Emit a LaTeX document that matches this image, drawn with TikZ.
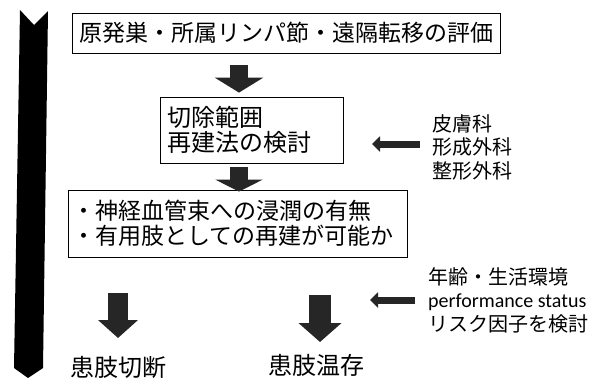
\documentclass[tikz,border=0pt]{standalone}
\usepackage{fontspec}
\setmainfont{Carlito}
\newfontfamily\jp{Noto Sans CJK JP}
\usetikzlibrary{arrows.meta}
\tikzset{
  box/.style={draw=black, line width=0.8pt, inner sep=0pt, fill=white},
  blk/.style n args={3}{line width=#1, draw=black!85, -{Triangle[width=#2,length=#3]}},
  sml/.style={line width=7pt, draw=black!85, -{Triangle[width=15pt,length=8pt]}},
  side/.style={anchor=west, inner sep=0pt, align=left, font=\jp\fontsize{20}{23.5}\selectfont},
  result/.style={anchor=west, inner sep=0pt, font=\jp\fontsize{24}{26}\selectfont},
}
\begin{document}
\begin{tikzpicture}[x=1pt,y=1pt]
\useasboundingbox (0,0) rectangle (613,-378);
% big timeline arrow
\fill[black] (20,-10) -- (34,-25) -- (48,-11) -- (43,-368) -- (28,-378) -- (14,-368) -- cycle;
% boxes
\node[box, minimum width=428pt, minimum height=40pt, font=\jp\fontsize{23}{25}\selectfont] (b1) at (286,-33) {原発巣・所属リンパ節・遠隔転移の評価};
\node[box, minimum width=183pt, minimum height=66pt, text width=169pt, align=left, inner xsep=7pt, font=\jp\fontsize{24}{25}\selectfont] (b2) at (251.5,-130) {切除範囲\\再建法の検討};
\node[box, minimum width=339pt, minimum height=67pt, text width=331pt, align=left, inner xsep=4pt, font=\jp\fontsize{23}{25}\selectfont] (b3) at (237.5,-223.5) {・神経血管束への浸潤の有無\\・有用肢としての再建が可能か};
% side notes
\node[side] (s1) at (432,-147) {皮膚科\\形成外科\\整形外科};
\node[side] (s2) at (428,-300) {年齢・生活環境\\{\rmfamily performance status}\\リスク因子を検討};
% results
\node[result] (r1) at (70,-367) {患肢切断};
\node[result] (r2) at (268,-365) {患肢温存};
% coordinates for arrow columns
\coordinate (c1) at (239,0);
\coordinate (c3) at (118,0);
\coordinate (c4) at (320,0);
\coordinate (t1) at (372,-144);
\coordinate (t2) at (370,-300);
% block arrows
\draw[blk={18pt}{48pt}{15pt}, shorten <=12pt, shorten >=4pt] (b1.south -| c1) -- (b2.north -| c1);
\draw[blk={18pt}{47pt}{12pt}, shorten <=4pt, shorten >=-2pt] (b2.south -| c1) -- (b3.north -| c1);
\draw[blk={20pt}{39pt}{18pt}, shorten <=36pt] (b3.south -| c3) -- (c3 |- 0,-338);
\draw[blk={22pt}{42pt}{19pt}, shorten <=38pt] (b3.south -| c4) -- (c4 |- 0,-342);
% small arrows
\draw[sml, shorten <=12pt] (s1.west |- t1) -- (t1);
\draw[sml, line width=7pt, shorten <=13pt] (s2.west |- t2) -- (t2);
\end{tikzpicture}
\end{document}
